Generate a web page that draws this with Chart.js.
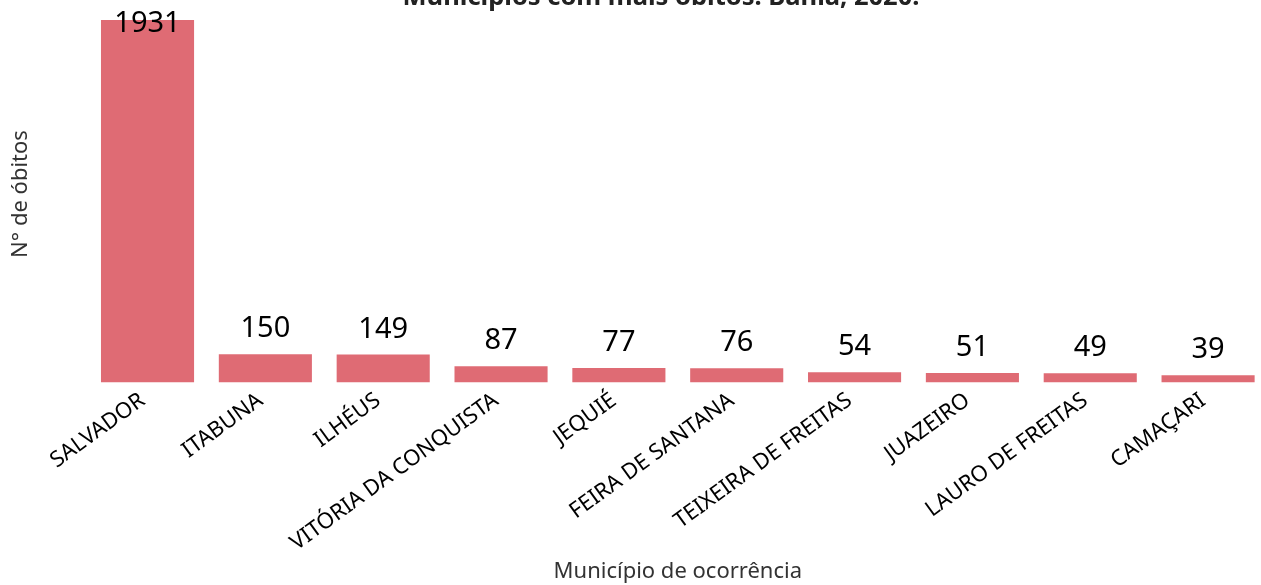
<!DOCTYPE html>
<html>
<head>
<meta charset="utf-8">
<script src="https://cdn.jsdelivr.net/npm/chart.js@4"></script>
<style>
  html, body { margin: 0; padding: 0; background: #fff; overflow: hidden; }
  #wrap { width: 1267px; height: 585px; }
</style>
</head>
<body>
<div id="wrap"><canvas id="chart" width="1267" height="585"></canvas></div>
<script>
const municipios = ['SALVADOR', 'ITABUNA', 'ILHÉUS', 'VITÓRIA DA CONQUISTA', 'JEQUIÉ',
    'FEIRA DE SANTANA', 'TEIXEIRA DE FREITAS', 'JUAZEIRO', 'LAURO DE FREITAS', 'CAMAÇARI'];
const obitos = [1931, 150, 149, 87, 77, 76, 54, 51, 49, 39];
const titulo = 'Municípios com mais óbitos. Bahia, 2020.';

// valores em cima das barras
const rotulos = {
    id: 'rotulos',
    afterDatasetsDraw(chart) {
        const c = chart.ctx;
        const meta = chart.getDatasetMeta(0);
        c.save();
        c.font = '29px "Noto Sans"';
        c.fillStyle = '#000';
        c.textAlign = 'center';
        c.textBaseline = 'alphabetic';
        meta.data.forEach((bar, i) => {
            const y = Math.max(bar.y - 17, 32);
            c.fillText(obitos[i], bar.x, y);
        });
        c.restore();
    }
};

// título cortado no topo
const tituloTopo = {
    id: 'tituloTopo',
    afterDraw(chart) {
        const c = chart.ctx;
        c.save();
        c.font = 'bold 25.5px "Noto Sans"';
        c.fillStyle = '#222';
        c.textAlign = 'center';
        c.textBaseline = 'alphabetic';
        c.fillText(titulo, 661, 5);
        c.restore();
    }
};

new Chart(document.getElementById('chart'), {
    type: 'bar',
    data: {
        labels: municipios,
        datasets: [{
            data: obitos,
            backgroundColor: '#df6b74',
            barPercentage: 0.79,
            categoryPercentage: 1
        }]
    },
    options: {
        responsive: false,
        animation: false,
        layout: { padding: { top: 5.5, left: 0, right: 0, bottom: 0 } },
        plugins: {
            legend: { display: false },
            tooltip: { enabled: false }
        },
        scales: {
            x: {
                grid: { display: false, drawTicks: false },
                border: { display: false },
                ticks: {
                    autoSkip: false,
                    minRotation: 36,
                    maxRotation: 36,
                    padding: 5,
                    labelOffset: -5,
                    color: '#000',
                    font: { family: 'Noto Sans', size: 22 }
                },
                title: {
                    display: true,
                    text: 'Município de ocorrência',
                    color: '#333',
                    font: { family: 'Noto Sans', size: 22 },
                    padding: 0
                },
                afterFit(scale) { scale.height = 202.5; }
            },
            y: {
                min: 0,
                max: 2008,
                grid: { display: false },
                border: { display: false },
                ticks: { display: false },
                title: {
                    display: true,
                    text: 'N° de óbitos',
                    color: '#333',
                    font: { family: 'Noto Sans', size: 22 },
                    padding: { top: 8, bottom: 0 }
                },
                afterFit(scale) { scale.width = 88.6; }
            }
        }
    },
    plugins: [rotulos, tituloTopo]
});
</script>
</body>
</html>
